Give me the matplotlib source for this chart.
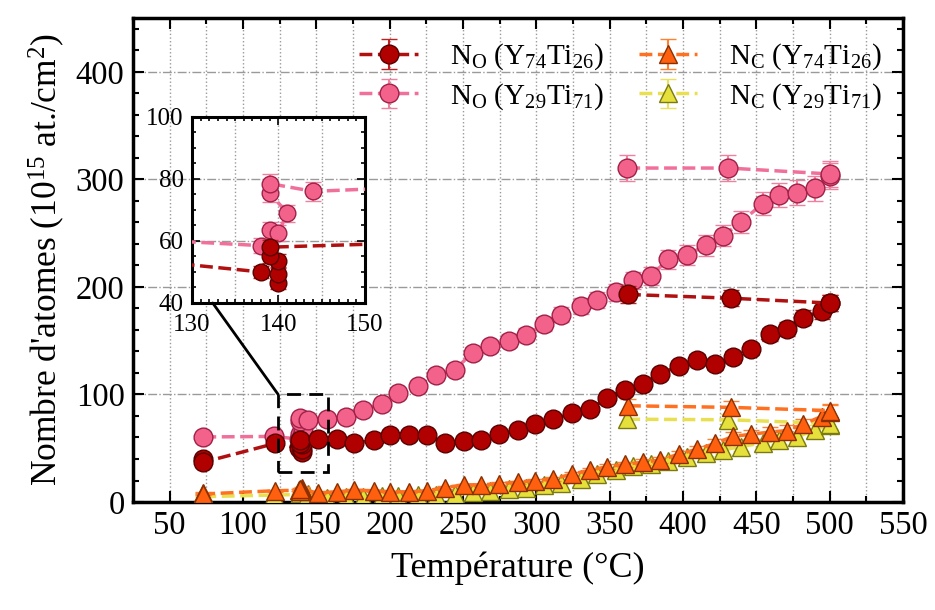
import numpy as np
import matplotlib
matplotlib.use('Agg')
import matplotlib.pyplot as plt
from matplotlib.ticker import MultipleLocator
from matplotlib.patches import Rectangle, ConnectionPatch

plt.rcParams['font.family'] = 'Liberation Serif'
plt.rcParams['mathtext.fontset'] = 'custom'
plt.rcParams['mathtext.rm'] = 'Liberation Serif'
plt.rcParams['mathtext.it'] = 'Liberation Serif:italic'

# Y74Ti26 sample : low-T points + temperature ramp
T74 = [73, 73, 122, 138, 140, 140, 140, 139, 139,
       151, 164, 176, 189, 200.5, 213, 225.5, 238, 250.5, 262.5,
       274.5, 287.5, 299, 311.5, 324.5, 336.5, 348.5, 360.5, 372.5, 384.5,
       397, 409.5, 422, 434, 446.5, 459, 471, 482, 494.5, 500]
NO74 = [40, 37, 54.5, 50, 46.5, 49.5, 53.5, 55, 58,
        59, 59, 54.5, 57.5, 62.5, 62.5, 62.5, 54.5, 57, 57.5,
        63, 67, 72.5, 77, 82.5, 86.5, 97, 104.5, 110, 119,
        126.5, 132.5, 128, 135, 142, 156, 161, 171.5, 177.5, 185]
NC74 = [8.5, 7.5, 10.5, 11, 13, 11.5, 10, 10.5, 12,
        8.5, 9.5, 11, 10.5, 9.5, 9.5, 10.5, 13.5, 16, 16,
        17, 18.5, 20, 21.5, 26, 29.5, 33, 35, 37, 39,
        44.5, 49, 54.5, 61, 63, 65, 66.5, 72.5, 79.5, 84]

# Y29Ti71 sample
T29 = [73, 121, 138, 139, 140, 141, 139, 139, 144,
       157, 170, 182, 194.5, 206, 219.5, 231.5, 244.5, 256.5, 268.5,
       281.5, 293, 305.5, 317, 330.5, 341.5, 354, 366, 378, 390,
       403, 415.5, 427.5, 439.5, 454.5, 465.5, 477.5, 490, 500]
NO29 = [60.5, 61, 58.5, 63.5, 62.5, 69, 75.5, 78.5, 76,
        77.5, 79, 86, 91, 101, 108, 118, 123, 139, 145,
        150, 155.5, 165.5, 174, 182, 187.5, 195, 206, 210.5, 225.5,
        230, 238.5, 247.5, 260.5, 277.5, 285.5, 287.5, 291.5, 303]
NC29 = [5, 6.5, 7, 7.5, 6, 8, 7, 8, 7.5,
        4, 4.5, 5, 5.5, 6, 6.5, 7, 7.5, 9, 10.5,
        12, 13.5, 15.5, 18, 21.5, 26, 30, 33.5, 35.5, 38,
        41.5, 46, 48.5, 51.5, 55, 58, 60.5, 67, 72]

# isolated high temperature anneals
T74_hi = [362.5, 432.5, 500]
NO74_hi = [193, 189.5, 185]
NC74_hi = [89.5, 88, 85]
T29_hi = [362, 431, 500]
NO29_hi = [310.5, 310.5, 305]
NC29_hi = [77, 76.5, 73]

# relative uncertainties
err_O = 0.04
err_C = 0.07

labels = [r'N$_{\rm O}$ (Y$_{74}$Ti$_{26}$)', r'N$_{\rm O}$ (Y$_{29}$Ti$_{71}$)',
          r'N$_{\rm C}$ (Y$_{74}$Ti$_{26}$)', r'N$_{\rm C}$ (Y$_{29}$Ti$_{71}$)']

st_o74 = dict(m='o', face='#b00000', edge='#5a0000', line='#b01010', err='#c02020', z=6)
st_o29 = dict(m='o', face='#f2628a', edge='#a02048', line='#f0709a', err='#f080a0', z=5)
st_c74 = dict(m='^', face='#ff6010', edge='#8a3000', line='#ff7020', err='#ff8030', z=4)
st_c29 = dict(m='^', face='#e6e03c', edge='#7a7a10', line='#e8e050', err='#e8e060', z=3)


def draw(a, T, N, rel, st, label=None, ms=13.5):
    N = np.array(N)
    return a.errorbar(T, N, yerr=N * rel, fmt=st['m'], ls='--', lw=2.5,
                      color=st['line'], mfc=st['face'], mec=st['edge'], mew=1,
                      ms=ms, ecolor=st['err'], elinewidth=1.5, capsize=6,
                      capthick=1.5, zorder=st['z'], label=label)


fig = plt.figure(figsize=(9.35, 6.1), dpi=100)
ax = fig.add_axes([0.1422, 0.177, 0.8236, 0.7935])

h1 = draw(ax, T74, NO74, err_O, st_o74, labels[0])
h2 = draw(ax, T29, NO29, err_O, st_o29, labels[1])
h3 = draw(ax, T74, NC74, err_C, st_c74, labels[2])
h4 = draw(ax, T29, NC29, err_C, st_c29, labels[3])
draw(ax, T74_hi, NO74_hi, err_O, st_o74)
draw(ax, T29_hi, NO29_hi, err_O, st_o29)
draw(ax, T74_hi, NC74_hi, err_C, st_c74)
draw(ax, T29_hi, NC29_hi, err_C, st_c29)

ax.set_xlim(25, 550)
ax.set_ylim(0, 450)
ax.xaxis.set_major_locator(MultipleLocator(50))
ax.xaxis.set_minor_locator(MultipleLocator(25))
ax.yaxis.set_major_locator(MultipleLocator(100))
ax.yaxis.set_minor_locator(MultipleLocator(20))
ax.grid(axis='x', which='both', ls=':', color='#9a9a9a', lw=1)
ax.grid(axis='y', which='major', ls='-.', color='#9a9a9a', lw=1)
ax.set_axisbelow(True)
ax.tick_params(which='both', direction='in', top=True, right=True, width=1.5)
ax.tick_params(which='major', length=8, labelsize=23.5, pad=6)
ax.tick_params(which='minor', length=4)
for s in ax.spines.values():
    s.set_linewidth(2.5)

ax.set_xlabel('Température (°C)', fontsize=26, labelpad=8)
ax.set_ylabel(r"Nombre d'atomes (10$^{15}$ at./cm$^{2}$)", fontsize=25.5, labelpad=6)

ax.legend(handles=[h1, h2, h3, h4], ncol=2, loc='upper left',
          bbox_to_anchor=(0.26, 1.005), frameon=False, fontsize=21,
          handlelength=2.0, handletextpad=1.1, columnspacing=1.2,
          labelspacing=0.3)

# zoomed region
ax.add_patch(Rectangle((124, 28), 34, 72, fill=False, ls=(0, (5, 3)),
                       lw=2, ec='black', zorder=10))

ax_in = fig.add_axes([0.2053, 0.5033, 0.185, 0.305])
ax_in.set_facecolor('white')
draw(ax_in, T74, NO74, err_O, st_o74, ms=12)
draw(ax_in, T29, NO29, err_O, st_o29, ms=12)
ax_in.set_xlim(130, 150)
ax_in.set_ylim(40, 100)
ax_in.xaxis.set_major_locator(MultipleLocator(10))
ax_in.xaxis.set_minor_locator(MultipleLocator(1))
ax_in.yaxis.set_major_locator(MultipleLocator(20))
ax_in.yaxis.set_minor_locator(MultipleLocator(5))
ax_in.grid(axis='y', which='major', ls='-.', color='#9a9a9a', lw=1)
for gx in np.arange(135, 150, 5):
    ax_in.axvline(gx, ls=':', color='#9a9a9a', lw=1, zorder=0)
ax_in.set_axisbelow(True)
ax_in.tick_params(which='both', direction='in', top=True, right=True, width=1.2)
ax_in.tick_params(which='major', length=6, labelsize=18)
ax_in.tick_params(axis='x', which='major', pad=8)
ax_in.tick_params(axis='y', which='major', pad=6)
ax_in.tick_params(which='minor', length=3)
for s in ax_in.spines.values():
    s.set_linewidth(2.2)

con = ConnectionPatch(xyA=(124, 100), coordsA=ax.transData,
                      xyB=(0.12, 0), coordsB=ax_in.transAxes,
                      color='black', lw=2)
fig.add_artist(con)

fig.savefig('out.png', dpi=100)
